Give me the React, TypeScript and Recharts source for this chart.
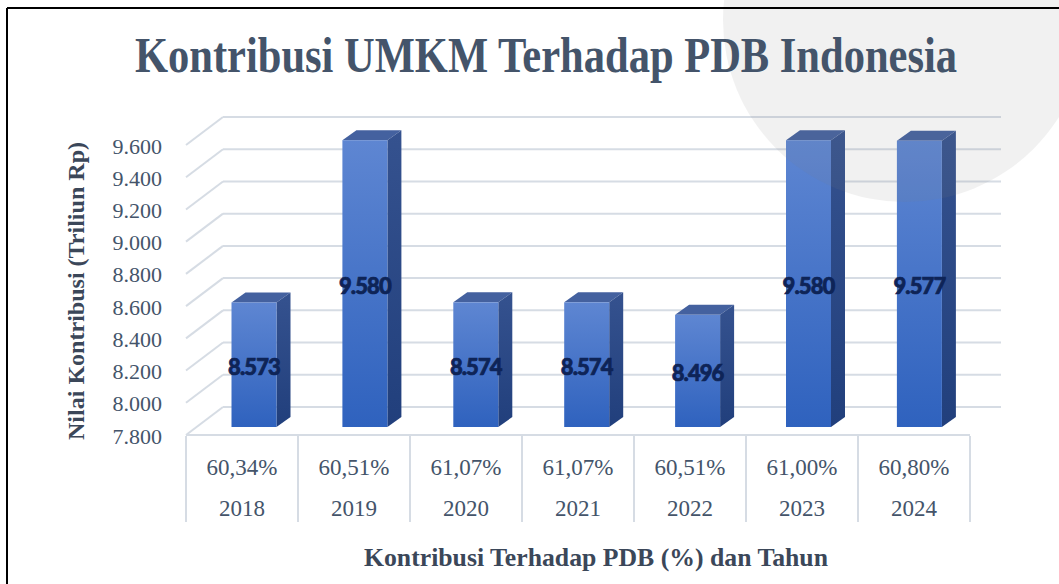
import React from "react";
import {
  BarChart,
  Bar,
  XAxis,
  YAxis,
  CartesianGrid,
  LabelList,
} from "recharts";

const years = ["2018", "2019", "2020", "2021", "2022", "2023", "2024"];
const shares = ["60,34%", "60,51%", "61,07%", "61,07%", "60,51%", "61,00%", "60,80%"];
const contributions = [8573, 9580, 8574, 8574, 8496, 9580, 9577];
const yTicks = [7800, 8000, 8200, 8400, 8600, 8800, 9000, 9200, 9400, 9600];

const data = years.map((year, i) => ({
  year,
  share: shares[i],
  value: contributions[i],
}));

const W = 1059;
const H = 584;
const PLOT_LEFT = 186;
const PLOT_RIGHT = 970;
const PLOT_TOP = 137;
const PLOT_BOTTOM = 427;
const BAND = (PLOT_RIGHT - PLOT_LEFT) / years.length;

const SERIF = "'Liberation Serif', 'Times New Roman', serif";
const SLATE = "#44546A";
const GRID = "#D6DCE4";

// depth of the fake 3D bars
const DX = 14;
const DY = 10;

const fmt = (v: number) => {
  const s = String(Math.round(v));
  return s.length > 3 ? s.slice(0, s.length - 3) + "." + s.slice(-3) : s;
};

const barShift = (index: number) => 11.5 - index * 1.1;

const Bar3D = (props: any) => {
  const { x, y, width, height, index } = props;
  if (height == null || height <= 0) return null;
  const fx = x + barShift(index);
  return (
    <g>
      <polygon
        points={`${fx},${y} ${fx + DX},${y - DY} ${fx + width + DX},${y - DY} ${fx + width},${y}`}
        fill="#44619F"
      />
      <polygon
        points={`${fx + width},${y} ${fx + width + DX},${y - DY} ${fx + width + DX},${y + height - DY} ${fx + width},${y + height}`}
        fill="url(#sideGrad)"
      />
      <rect x={fx} y={y} width={width} height={height} fill="url(#frontGrad)" />
    </g>
  );
};

const ValueLabel = (props: any) => {
  const { x, y, width, height, value, index } = props;
  return (
    <text
      x={x + width / 2 + barShift(index)}
      y={y + height / 2 + 2}
      textAnchor="middle"
      dominantBaseline="central"
      fontFamily="Lato, 'Open Sans', sans-serif"
      fontWeight={900}
      fontSize={22}
      letterSpacing={-0.9}
      fill="#0E2457"
      stroke="#0E2457"
      strokeWidth={0.7}
    >
      {fmt(value)}
    </text>
  );
};

const YTick = (props: any) => {
  const { x, y, payload } = props;
  return (
    <text
      x={x - 24}
      y={y + 9}
      textAnchor="end"
      dominantBaseline="central"
      fontFamily={SERIF}
      fontSize={22}
      fill={SLATE}
    >
      {fmt(payload.value)}
    </text>
  );
};

const XTick = (props: any) => {
  const { x, y, payload, index } = props;
  const left = x - BAND / 2;
  const right = x + BAND / 2;
  return (
    <g>
      <line x1={left} y1={y + 9} x2={left} y2={y + 95} stroke={GRID} strokeWidth={2} />
      {index === years.length - 1 && (
        <line x1={right} y1={y + 9} x2={right} y2={y + 95} stroke={GRID} strokeWidth={2} />
      )}
      <text x={x} y={y + 40} textAnchor="middle" dominantBaseline="central"
        fontFamily={SERIF} fontSize={23} fill={SLATE}>
        {shares[index]}
      </text>
      <text x={x} y={y + 81} textAnchor="middle" dominantBaseline="central"
        fontFamily={SERIF} fontSize={23} fill={SLATE}>
        {payload.value}
      </text>
    </g>
  );
};

const WallLine = (props: any) => {
  const { x1, x2, y1, index } = props;
  const backY = y1 - 20;
  const frontY = y1 + 8;
  return (
    <g key={`wall-${index}`}>
      <line x1={x1 + 37} y1={backY} x2={x2 + 31} y2={backY} stroke={GRID} strokeWidth={2} />
      <line x1={x1} y1={frontY} x2={x1 + 37} y2={backY} stroke={GRID} strokeWidth={2} />
      {y1 >= PLOT_BOTTOM - 1 && (
        <line x1={x1} y1={frontY} x2={x2} y2={frontY} stroke={GRID} strokeWidth={2} />
      )}
    </g>
  );
};

export default function App() {
  return (
    <div style={{ position: "absolute", left: 0, top: 0, width: W, height: H, background: "#fff" }}>
      <BarChart
        width={W}
        height={H}
        data={data}
        margin={{ top: PLOT_TOP, right: W - PLOT_RIGHT, bottom: 0, left: PLOT_LEFT - 80 }}
      >
        <defs>
          <linearGradient id="frontGrad" x1="0" y1="0" x2="0" y2="1">
            <stop offset="0%" stopColor="#5E86D2" />
            <stop offset="100%" stopColor="#2F62BE" />
          </linearGradient>
          <linearGradient id="sideGrad" x1="0" y1="0" x2="0" y2="1">
            <stop offset="0%" stopColor="#35528F" />
            <stop offset="100%" stopColor="#213F7C" />
          </linearGradient>
        </defs>
        <CartesianGrid vertical={false} horizontal={(p: any) => <WallLine {...p} />} />
        <XAxis
          dataKey="year"
          axisLine={false}
          tickLine={false}
          tickSize={0}
          tickMargin={0}
          height={H - PLOT_BOTTOM}
          interval={0}
          tick={<XTick />}
        />
        <YAxis
          width={80}
          domain={[7800, 9600]}
          ticks={yTicks}
          interval={0}
          axisLine={false}
          tickLine={false}
          tickSize={0}
          tickMargin={0}
          tick={<YTick />}
        />
        <Bar dataKey="value" barSize={45} shape={<Bar3D />} isAnimationActive={false}>
          <LabelList dataKey="value" content={<ValueLabel />} />
        </Bar>
      </BarChart>
      <svg width={W} height={H} style={{ position: "absolute", left: 0, top: 0, pointerEvents: "none" }}>
        <circle cx={905} cy={20} r={182} fill="#7F7F7F" opacity={0.11} />
        <line x1={7} y1={8} x2={W} y2={8} stroke="#000" strokeWidth={2} />
        <line x1={7} y1={8} x2={7} y2={H} stroke="#000" strokeWidth={2} />
        <text x={546} y={72} textAnchor="middle" fontFamily={SERIF} fontWeight={700}
          fontSize={50} fill={SLATE} textLength={822} lengthAdjust="spacingAndGlyphs">
          Kontribusi UMKM Terhadap PDB Indonesia
        </text>
        <text transform="translate(84, 291) rotate(-90)" textAnchor="middle" fontFamily={SERIF}
          fontWeight={700} fontSize={22.5} fill="#3B4759" textLength={298} lengthAdjust="spacingAndGlyphs">
          Nilai Kontribusi (Triliun Rp)
        </text>
        <text x={596} y={566} textAnchor="middle" fontFamily={SERIF} fontWeight={700}
          fontSize={24.5} fill="#3B4759" textLength={464} lengthAdjust="spacingAndGlyphs">
          Kontribusi Terhadap PDB (%) dan Tahun
        </text>
      </svg>
    </div>
  );
}
